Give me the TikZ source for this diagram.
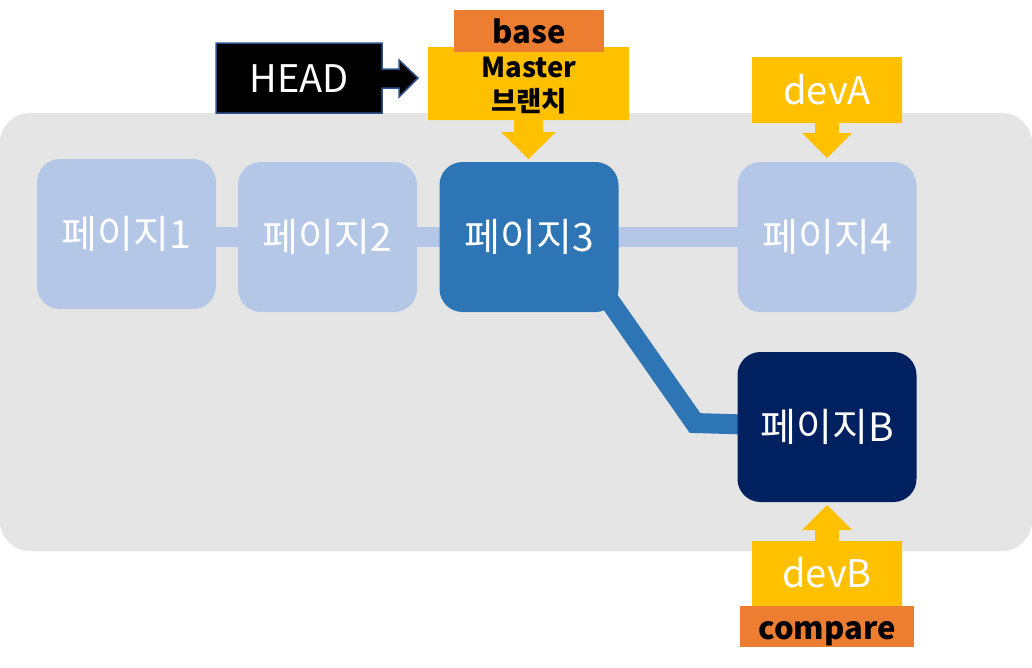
\documentclass[tikz,border=0pt]{standalone}
\usepackage{fontspec}
\setmainfont{Noto Sans CJK KR}
\begin{document}
\begin{tikzpicture}[x=1pt,y=-1pt,
  page/.style={rounded corners=23pt,minimum width=179pt,minimum height=150pt,inner sep=0pt},
  light/.style={page,fill=lightblue},
  ptext/.style={anchor=base,inner sep=0pt,text=white,font=\fontsize{39}{40}\selectfont},
  linkA/.style={draw=lightblue,line width=20pt},
  linkB/.style={draw=midblue,line width=20pt,miter limit=10},
  callout/.style={fill=yellowc},
  tagbox/.style={fill=orangec,inner sep=0pt},
  tagtext/.style={anchor=base,inner sep=0pt,font=\bfseries\fontsize{31}{32}\selectfont,text=black},
  wtext/.style={anchor=base,inner sep=0pt,text=white,font=\fontsize{38}{40}\selectfont}
]
\definecolor{lightblue}{HTML}{B4C7E7}
\definecolor{midblue}{HTML}{2E75B6}
\definecolor{darkblue}{HTML}{002060}
\definecolor{yellowc}{HTML}{FFC000}
\definecolor{orangec}{HTML}{ED7D31}
\definecolor{bgray}{HTML}{E5E5E5}
\definecolor{outl}{HTML}{2F528F}
\useasboundingbox (0,0) rectangle (1032,667);
% background
\fill[bgray,rounded corners=30pt] (0,113) rectangle (1032,551);
% node positions
\coordinate (c1) at (126.5,234);
\coordinate (c2) at (327.5,237);
\coordinate (c3) at (529,237);
\coordinate (c4) at (827,237);
\coordinate (cb) at (827,427);
\coordinate (bend) at (695,423);
% connectors
\draw[linkA] (c1 |- c4) -- (c4);
\draw[linkB] (590,273) -- (bend) -- (cb);
% page nodes
\node[light] (p1) at (c1) {};
\node[light] (p2) at (c2) {};
\node[page,fill=midblue] (p3) at (c3) {};
\node[light] (p4) at (c4) {};
\node[page,fill=darkblue] (pb) at (cb) {};
\node[ptext] at (126.5,248) {페이지1};
\node[ptext] at (327.5,251) {페이지2};
\node[ptext] at (529,251) {페이지3};
\node[ptext] at (827,251) {페이지4};
\node[ptext] at (827,441) {페이지B};
% HEAD callout
\draw[fill=black,draw=outl,line width=1.5pt] (216,43) -- (382,43) -- (382,69) -- (399,69) -- (399,60) -- (418,78) -- (399,97) -- (399,88) -- (382,88) -- (382,113) -- (216,113) -- cycle;
\node[wtext] (head) at (299,92) {HEAD};
% Master callout
\fill[callout] (428,47) -- (629,47) -- (629,120) -- (543,120) -- (543,132) -- (556,132) -- (528.5,159) -- (501,132) -- (514,132) -- (514,120) -- (428,120) -- cycle;
\node[anchor=base,inner sep=0pt,font=\bfseries\fontsize{27.5}{30}\selectfont] (master) at (529,77) {Master};
\node[anchor=base,inner sep=0pt,font=\bfseries\fontsize{27.5}{30}\selectfont] (branch) at (529,111) {브랜치};
% base
\node[tagbox,minimum width=150pt,minimum height=42pt] (base) at (529,31) {};
\node[tagtext] at (529,43) {base};
% devA callout
\fill[callout] (752,57) -- (902,57) -- (902,123) -- (839,123) -- (839,133) -- (852,133) -- (827,158) -- (802,133) -- (815,133) -- (815,123) -- (752,123) -- cycle;
\node[wtext] (devA) at (827,104) {devA};
% devB callout
\fill[callout] (752,606) -- (752,541) -- (815,541) -- (815,530) -- (802,530) -- (827,505) -- (852,530) -- (839,530) -- (839,541) -- (902,541) -- (902,606) -- cycle;
\node[wtext] (devB) at (827,587) {devB};
% compare
\node[tagbox,minimum width=174pt,minimum height=41pt] (compare) at (827,626.5) {};
\node[tagtext] at (827,639) {compare};
\end{tikzpicture}
\end{document}
